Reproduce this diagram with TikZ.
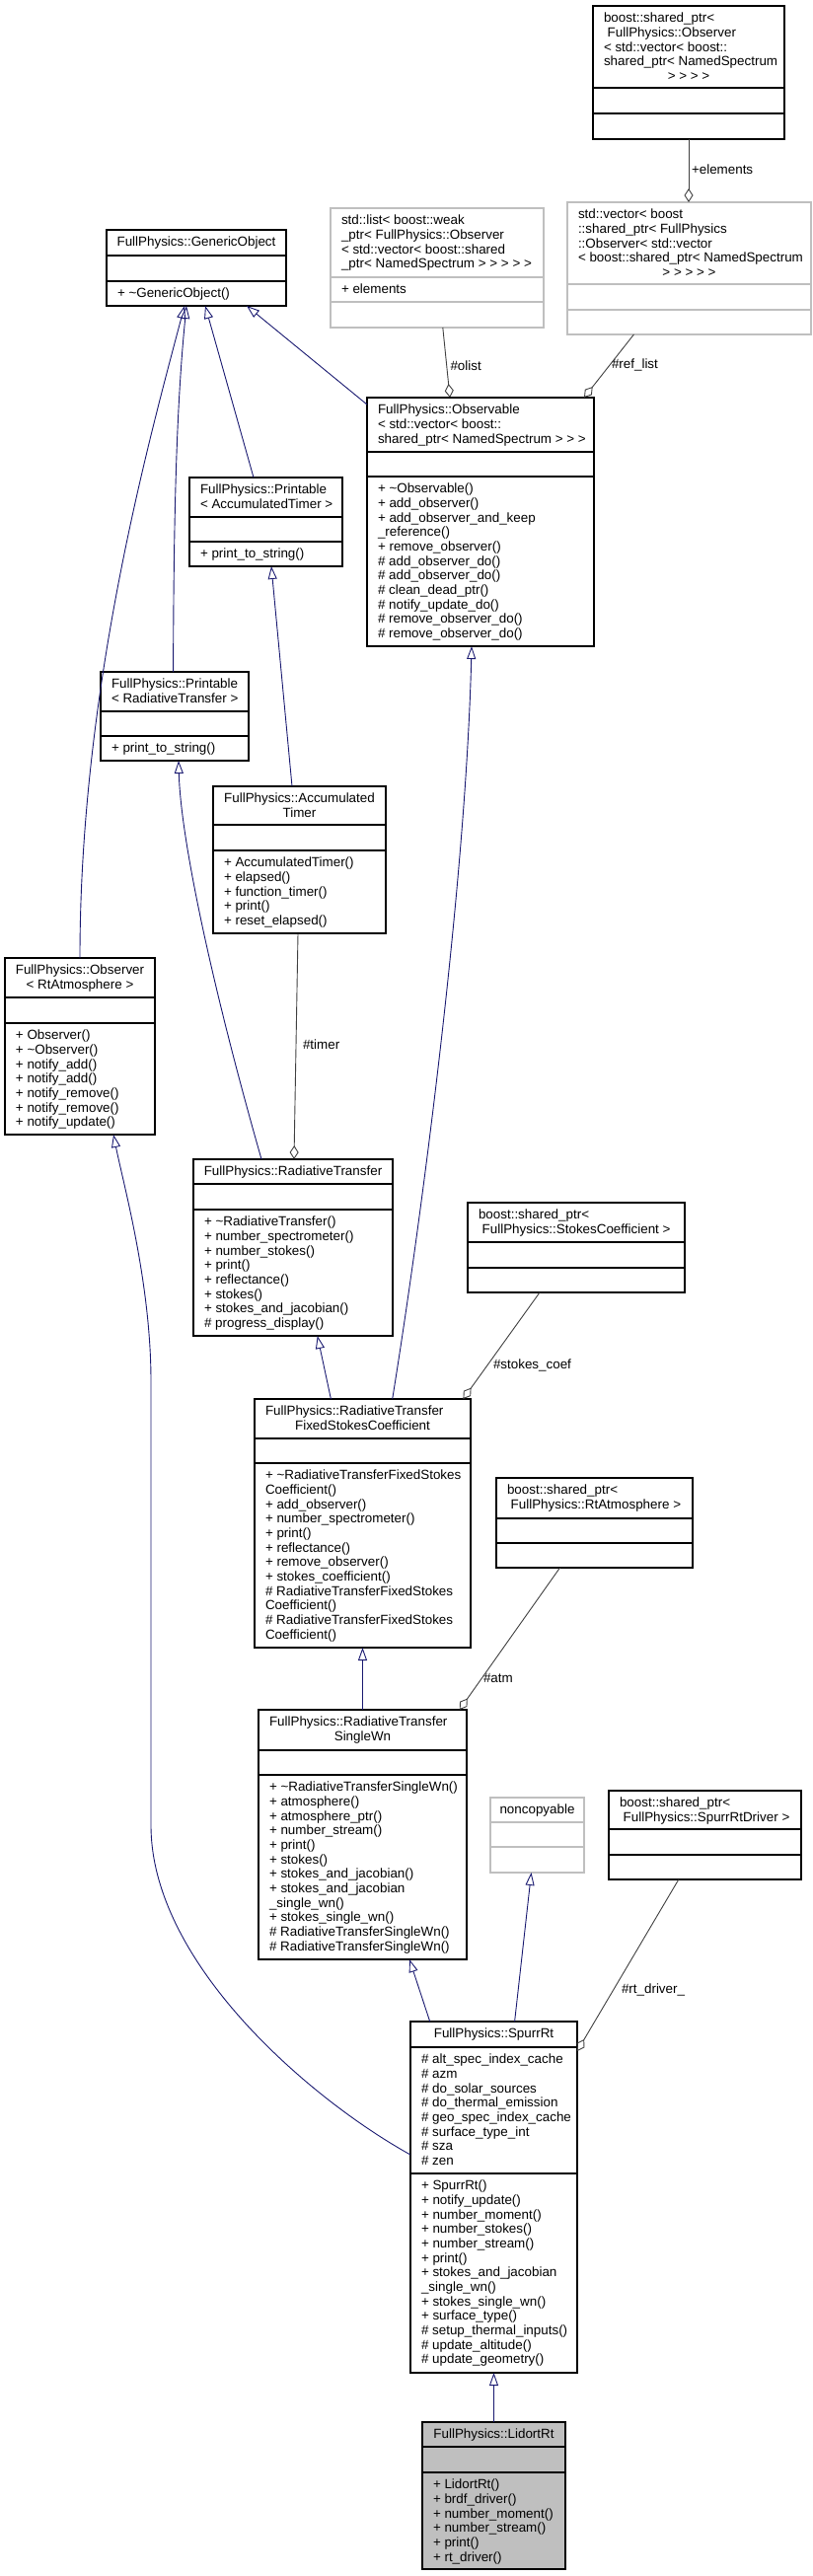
\documentclass[tikz,border=0pt]{standalone}
\usepackage{fontspec}
\setmainfont{Liberation Sans}
\usetikzlibrary{arrows.meta}
\definecolor{inh}{HTML}{191970}
\definecolor{agg}{HTML}{404040}
\definecolor{lgray}{HTML}{BFBFBF}
\newcommand\tld{\textasciitilde}
\newcommand\lsp{\hspace*{3.7pt}}
\newcommand\dfont{\fontsize{13.4}{14.67}\selectfont\lineskiplimit=-20pt\relax}
\tikzset{
  cbox/.style={draw=black, line width=1.1pt, fill=white, inner sep=0pt, outer sep=0pt, anchor=north west},
  gbox/.style={cbox, draw=lgray},
  hbox/.style={cbox, fill=lgray},
  cboxsep/.style={draw=black, line width=1.1pt},
  gboxsep/.style={draw=lgray, line width=1.1pt},
  hboxsep/.style={draw=black, line width=1.1pt},
  txt/.style={font=\dfont, inner sep=0pt, outer sep=0pt},
  ltxt/.style={txt, anchor=north west, align=left},
  ctxt/.style={txt, anchor=north, align=center},
  lbl/.style={txt, anchor=west},
  inhline/.style={draw=inh, line width=0.9pt, -{Triangle[open, length=13pt, width=9pt]}},
  aggline/.style={draw=agg, line width=0.9pt, -{Diamond[open, length=14pt, width=9pt]}},
}
\newcommand\umlbox[8]{%
  \pgfmathsetmacro\bw{#4-#2}\pgfmathsetmacro\bh{#5-#3}%
  \node[#8, minimum width=\bw pt, minimum height=\bh pt] (#1) at (#2,#3) {};
  \draw[#8sep] (#2,#6) -- (#4,#6);
  \draw[#8sep] (#2,#7) -- (#4,#7);
}
\begin{document}
\begin{tikzpicture}[x=1pt,y=-1pt]
\useasboundingbox (0,0) rectangle (823,2611);

% ---------- boxes ----------
\umlbox{topptr}{601}{6}{795}{141}{89}{115}{cbox}
\node[ltxt] (topptr-t) at (612,12.5) {\strut boost::shared\_ptr<\\\lsp FullPhysics::Observer\\< std::vector< boost::\\shared\_ptr< NamedSpectrum};
\node[ctxt] (topptr-t2) at (698,71.2) {\strut > > > >};

\umlbox{go}{108}{233}{290}{310}{259}{285}{cbox}
\node[ctxt] (go-t) at (199,239.5) {\strut FullPhysics::GenericObject};
\node[ltxt] (go-m) at (119,291.5) {\strut + \tld GenericObject()};

\umlbox{sl}{335}{211}{551}{332}{281}{306}{gbox}
\node[ltxt] (sl-t) at (346,217.5) {\strut std::list< boost::weak\\\_ptr< FullPhysics::Observer\\< std::vector< boost::shared\\\_ptr< NamedSpectrum > > > > >};
\node[ltxt] (sl-a) at (346,287.5) {\strut + elements};

\umlbox{sv}{575}{205}{822}{339}{288}{314}{gbox}
\node[ltxt] (sv-t) at (586,211.5) {\strut std::vector< boost\\::shared\_ptr< FullPhysics\\::Observer< std::vector\\< boost::shared\_ptr< NamedSpectrum};
\node[ctxt] (sv-t2) at (698.5,270.2) {\strut > > > > >};

\umlbox{obl}{372}{403}{602}{655}{458}{483}{cbox}
\node[ltxt] (obl-t) at (383,409.5) {\strut FullPhysics::Observable\\< std::vector< boost::\\shared\_ptr< NamedSpectrum > > >};
\node[ltxt] (obl-m) at (383,489.5) {\strut + \tld Observable()\\+ add\_observer()\\+ add\_observer\_and\_keep\\\_reference()\\+ remove\_observer()\\\# add\_observer\_do()\\\# add\_observer\_do()\\\# clean\_dead\_ptr()\\\# notify\_update\_do()\\\# remove\_observer\_do()\\\# remove\_observer\_do()};

\umlbox{pat}{192}{484}{347}{574}{524}{549}{cbox}
\node[ltxt] (pat-t) at (203,490.5) {\strut FullPhysics::Printable\\< AccumulatedTimer >};
\node[ltxt] (pat-m) at (203,555.5) {\strut + print\_to\_string()};

\umlbox{prt}{102}{681}{252}{771}{721}{746}{cbox}
\node[ltxt] (prt-t) at (113,687.5) {\strut FullPhysics::Printable\\< RadiativeTransfer >};
\node[ltxt] (prt-m) at (113,752.5) {\strut + print\_to\_string()};

\umlbox{at}{216}{797}{391}{946}{836}{862}{cbox}
\node[ctxt] (at-t) at (303.5,803.5) {\strut FullPhysics::Accumulated\\Timer};
\node[ltxt] (at-m) at (227,868.5) {\strut + AccumulatedTimer()\\+ elapsed()\\+ function\_timer()\\+ print()\\+ reset\_elapsed()};

\umlbox{obsr}{5}{971}{157}{1150}{1011}{1037}{cbox}
\node[ctxt] (obsr-t) at (81,977.5) {\strut FullPhysics::Observer\\< RtAtmosphere >};
\node[ltxt] (obsr-m) at (16,1043.5) {\strut + Observer()\\+ \tld Observer()\\+ notify\_add()\\+ notify\_add()\\+ notify\_remove()\\+ notify\_remove()\\+ notify\_update()};

\umlbox{rt}{196}{1175}{398}{1354}{1200}{1226}{cbox}
\node[ctxt] (rt-t) at (297,1181.5) {\strut FullPhysics::RadiativeTransfer};
\node[ltxt] (rt-m) at (207,1232.5) {\strut + \tld RadiativeTransfer()\\+ number\_spectrometer()\\+ number\_stokes()\\+ print()\\+ reflectance()\\+ stokes()\\+ stokes\_and\_jacobian()\\\# progress\_display()};

\umlbox{scp}{474}{1219}{694}{1310}{1259}{1285}{cbox}
\node[ltxt] (scp-t) at (485,1225.5) {\strut boost::shared\_ptr<\\\lsp FullPhysics::StokesCoefficient >};

\umlbox{rtf}{258}{1418}{477}{1670}{1458}{1483}{cbox}
\node[ltxt] (rtf-t) at (269,1424.5) {\strut FullPhysics::RadiativeTransfer};
\node[ctxt] (rtf-t2) at (367.5,1439.2) {\strut FixedStokesCoefficient};
\node[ltxt] (rtf-m) at (269,1489.5) {\strut + \tld RadiativeTransferFixedStokes\\Coefficient()\\+ add\_observer()\\+ number\_spectrometer()\\+ print()\\+ reflectance()\\+ remove\_observer()\\+ stokes\_coefficient()\\\# RadiativeTransferFixedStokes\\Coefficient()\\\# RadiativeTransferFixedStokes\\Coefficient()};

\umlbox{rap}{503}{1498}{702}{1589}{1539}{1564}{cbox}
\node[ltxt] (rap-t) at (514,1504.5) {\strut boost::shared\_ptr<\\\lsp FullPhysics::RtAtmosphere >};

\umlbox{rsw}{262}{1733}{473}{1986}{1774}{1799}{cbox}
\node[ltxt] (rsw-t) at (273,1739.5) {\strut FullPhysics::RadiativeTransfer};
\node[ctxt] (rsw-t2) at (367.5,1754.2) {\strut SingleWn};
\node[ltxt] (rsw-m) at (273,1805.5) {\strut + \tld RadiativeTransferSingleWn()\\+ atmosphere()\\+ atmosphere\_ptr()\\+ number\_stream()\\+ print()\\+ stokes()\\+ stokes\_and\_jacobian()\\+ stokes\_and\_jacobian\\\_single\_wn()\\+ stokes\_single\_wn()\\\# RadiativeTransferSingleWn()\\\# RadiativeTransferSingleWn()};

\umlbox{nc}{497}{1822}{592}{1898}{1847}{1872}{gbox}
\node[ctxt] (nc-t) at (544.5,1828.5) {\strut noncopyable};

\umlbox{sdp}{617}{1815}{812}{1905}{1854}{1880}{cbox}
\node[ltxt] (sdp-t) at (628,1821.5) {\strut boost::shared\_ptr<\\\lsp FullPhysics::SpurrRtDriver >};

\umlbox{sp}{416}{2049}{585}{2405}{2075}{2203}{cbox}
\node[ctxt] (sp-t) at (500.5,2055.5) {\strut FullPhysics::SpurrRt};
\node[ltxt] (sp-a) at (427,2081.5) {\strut \# alt\_spec\_index\_cache\\\# azm\\\# do\_solar\_sources\\\# do\_thermal\_emission\\\# geo\_spec\_index\_cache\\\# surface\_type\_int\\\# sza\\\# zen};
\node[ltxt] (sp-m) at (427,2209.5) {\strut + SpurrRt()\\+ notify\_update()\\+ number\_moment()\\+ number\_stokes()\\+ number\_stream()\\+ print()\\+ stokes\_and\_jacobian\\\_single\_wn()\\+ stokes\_single\_wn()\\+ surface\_type()\\\# setup\_thermal\_inputs()\\\# update\_altitude()\\\# update\_geometry()};

\umlbox{lr}{428}{2455}{573}{2604}{2480}{2506}{hbox}
\node[ctxt] (lr-t) at (500.5,2461.5) {\strut FullPhysics::LidortRt};
\node[ltxt] (lr-m) at (439,2512.5) {\strut + LidortRt()\\+ brdf\_driver()\\+ number\_moment()\\+ number\_stream()\\+ print()\\+ rt\_driver()};

% ---------- inheritance ----------
\draw[inhline] ([xshift=76pt]obsr.north west) .. controls (81,700) and (150,450) .. ([xshift=79pt]go.south west);
\draw[inhline] ([xshift=73.6pt]prt.north west) .. controls (176,500) and (180,400) .. ([xshift=81pt]go.south west);
\draw[inhline] ([xshift=65pt]pat.north west) -- ([xshift=100pt]go.south west);
\draw[inhline] ([yshift=-7pt]obl.north west) -- ([xshift=142pt]go.south west);
\draw[inhline] ([xshift=80pt]at.north west) -- ([xshift=83pt]pat.south west);
\draw[inhline] ([xshift=69pt]rt.north west) .. controls (215,1000) and (183,850) .. ([xshift=79pt]prt.south west);
\draw[inhline] ([xshift=139.7pt]rtf.north west) .. controls (425,1250) and (472,900) .. ([xshift=106pt]obl.south west);
\draw[inhline] ([xshift=77.4pt]rtf.north west) -- ([xshift=125.7pt]rt.south west);
\draw[inhline] (rsw.north) -- (rtf.south);
\draw[inhline] ([xshift=19.7pt]sp.north west) -- ([xshift=153pt]rsw.south west);
\draw[inhline] ([xshift=105.6pt]sp.north west) -- ([xshift=41.5pt]nc.south west);
\draw[inhline] ([yshift=-135pt]sp.north west) .. controls (315,2128) and (153,1990) .. (153,1850) -- (153,1400) .. controls (153,1300) and (125,1200) .. ([xshift=110pt]obsr.south west);
\draw[inhline] (lr.north) -- (sp.south);

% ---------- aggregation ----------
\draw[aggline] (topptr.south) -- (topptr.south |- sv.north);
\draw[aggline] ([xshift=113.8pt]sl.south west) -- ([xshift=84pt]obl.north west);
\draw[aggline] ([xshift=67.4pt]sv.south west) -- ([xshift=220pt]obl.north west);
\draw[aggline] ([xshift=86pt]at.south west) -- ([xshift=102pt]rt.north west);
\draw[aggline] ([xshift=73pt]scp.south west) -- ([xshift=211.4pt]rtf.north west);
\draw[aggline] ([xshift=64.5pt]rap.south west) -- ([xshift=203.7pt]rsw.north west);
\draw[aggline] ([xshift=70.8pt]sdp.south west) -- ([yshift=-30pt]sp.north east);

% ---------- labels ----------
\node[lbl] (l-el) at (701,172) {+elements};
\node[lbl] (l-ol) at (456.5,370.5) {\#olist};
\node[lbl] (l-rl) at (620,370) {\#ref\_list};
\node[lbl] (l-ti) at (307,1059) {\#timer};
\node[lbl] (l-sc) at (500,1384) {\#stokes\_coef};
\node[lbl] (l-at) at (490,1701) {\#atm};
\node[lbl] (l-rd) at (630,2017) {\#rt\_driver\_};
\end{tikzpicture}
\end{document}
